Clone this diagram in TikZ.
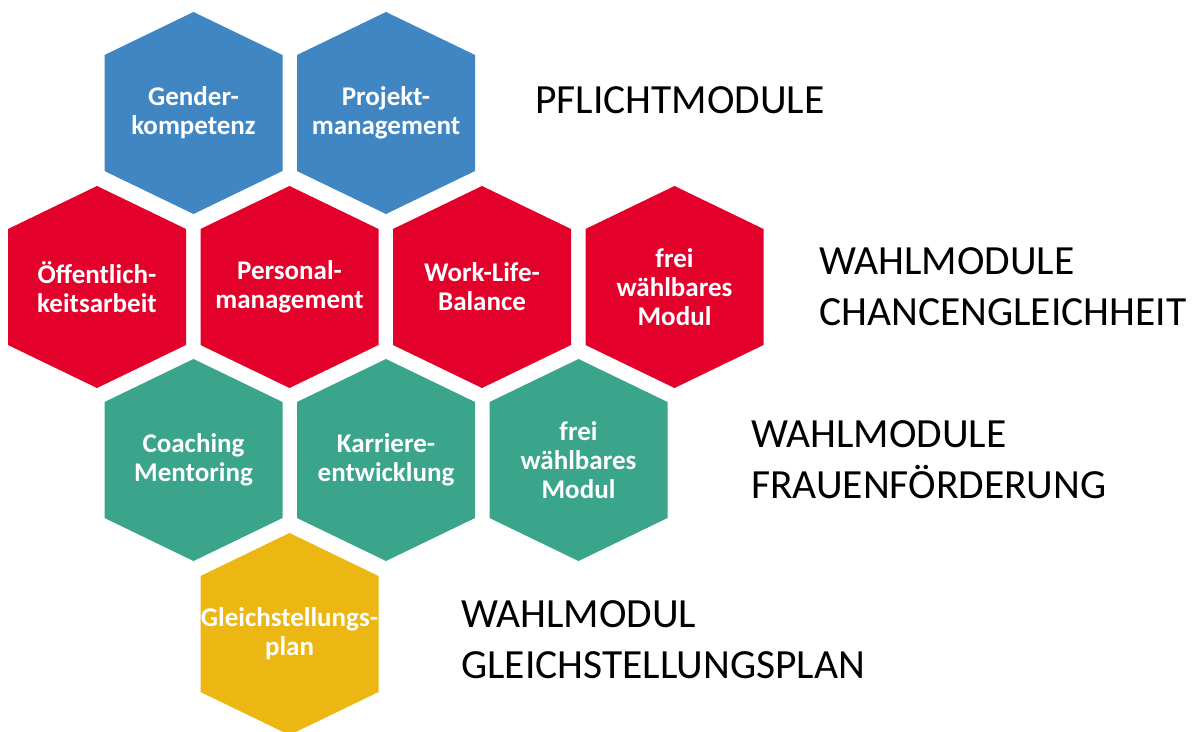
\documentclass[tikz,border=0pt]{standalone}
\usepackage{fontspec}
\setmainfont{Carlito}
\definecolor{hexblue}{HTML}{3F86C3}
\definecolor{hexred}{HTML}{E3002B}
\definecolor{hexgreen}{HTML}{3AA58A}
\definecolor{hexyellow}{HTML}{ECB613}
\newcommand{\hexmod}[5]{%
  \fill[#4] (#2,#3) ++(0,-101) -- ++(89,43) -- ++(0,116) -- ++(-89,43) -- ++(-89,-43) -- ++(0,-116) -- cycle;
  \node[modtext] (#1) at (#2,#3) {#5};
}
\begin{document}
\begin{tikzpicture}[x=1pt,y=-1pt,
  modtext/.style={text=white, font=\bfseries\fontsize{27}{29}\selectfont, align=center, inner sep=0pt},
  grouplabel/.style={anchor=base west, align=left, inner sep=0pt, font=\fontsize{41.5}{51}\selectfont, text=black}]
\useasboundingbox (0,0) rectangle (1196,731);
\clip (0,0) rectangle (1196,731);
% row 1: Pflichtmodule
\hexmod{gender}{193.5}{113}{hexblue}{Gender-\\kompetenz}
\hexmod{projekt}{386}{113}{hexblue}{Projekt-\\management}
% row 2: Chancengleichheit
\hexmod{oeff}{97}{287}{hexred}{Öffentlich-\\keitsarbeit}
\hexmod{personal}{289.5}{287}{hexred}{Personal-\\management}
\hexmod{wlb}{482}{287}{hexred}{Work-Life-\\Balance}
\hexmod{freired}{674.5}{287}{hexred}{frei\\wählbares\\Modul}
% row 3: Frauenförderung
\hexmod{coaching}{193.5}{460}{hexgreen}{Coaching\\Mentoring}
\hexmod{karriere}{386}{460}{hexgreen}{Karriere-\\entwicklung}
\hexmod{freigreen}{578.5}{460}{hexgreen}{frei\\wählbares\\Modul}
% row 4: Gleichstellungsplan
\hexmod{gleich}{289.5}{634}{hexyellow}{Gleichstellungs-\\plan}
% group labels (base = baseline of the last line)
\node[grouplabel] (lpflicht) at (535,113) {PFLICHTMODULE};
\node[grouplabel] (lchance) at (819,325) {WAHLMODULE\\CHANCENGLEICHHEIT};
\node[grouplabel] (lfrauen) at (751,498) {WAHLMODULE\\FRAUENFÖRDERUNG};
\node[grouplabel] (lgleich) at (461,678) {WAHLMODUL\\GLEICHSTELLUNGSPLAN};
\end{tikzpicture}
\end{document}
